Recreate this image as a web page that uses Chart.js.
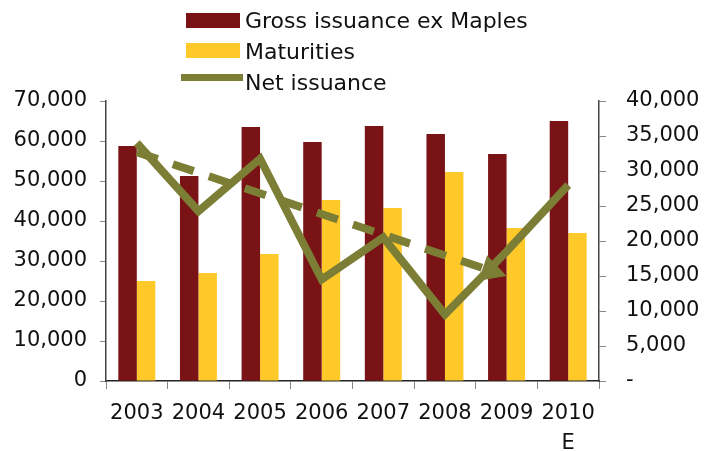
<!DOCTYPE html>
<html>
<head>
<meta charset="utf-8">
<script src="https://cdn.jsdelivr.net/npm/chart.js@4.4.1/dist/chart.umd.min.js"></script>
<style>
  html, body { margin: 0; padding: 0; background: #fff; }
  #wrap { position: relative; width: 704px; height: 451px; }
</style>
</head>
<body>
<div id="wrap"><canvas id="issuanceChart"></canvas></div>
<script>
// Issuance vs maturities, with net issuance on the secondary axis
const years = ['2003', '2004', '2005', '2006', '2007', '2008', '2009', ['2010', 'E']];
const grossIssuance = [58750, 51250, 63500, 59750, 63750, 61750, 56750, 65000];
const maturities = [25000, 27000, 31750, 45250, 43250, 52250, 38250, 37000];
const netIssuance = [34000, 24250, 31750, 14500, 20500, 9500, 18500, 28000];
// hand-drawn downward trend arrow, 2003 -> 2009
const netTrend = [32700, null, null, null, null, null, 15000, null];

const leftTicks = { min: 0, max: 70000, step: 10000 };
const rightTicks = { min: 0, max: 40000, step: 5000 };

const DARK_RED = '#7a1315';
const YELLOW = '#ffc92a';
const OLIVE = '#7b7e34';
const TREND_INDEX = 3;
const ARROW_LEN = 25;
const ARROW_HALF = 13.5;

Chart.defaults.font.family = '"DejaVu Sans", Verdana, sans-serif';
Chart.defaults.font.size = 21;
Chart.defaults.color = '#111';

function fmt(v) {
  return Number(v).toLocaleString('en-US');
}

function trendEnds(chart) {
  const pts = chart.getDatasetMeta(TREND_INDEX).data.filter((p, i) => netTrend[i] !== null);
  const a = pts[pts.length - 2];
  const b = pts[pts.length - 1];
  const ang = Math.atan2(b.y - a.y, b.x - a.x);
  return { tip: b, dx: Math.cos(ang), dy: Math.sin(ang) };
}

// cut the dashed line short so it ends inside the arrowhead base
const arrowHead = {
  id: 'arrowHead',
  beforeDatasetDraw(chart, args) {
    if (args.index !== TREND_INDEX) return;
    const { tip, dx, dy } = trendEnds(chart);
    const bx = tip.x - dx * (ARROW_LEN - 2);
    const by = tip.y - dy * (ARROW_LEN - 2);
    const ctx = chart.ctx;
    ctx.save();
    ctx.beginPath();
    ctx.moveTo(bx - dy * 1000, by + dx * 1000);
    ctx.lineTo(bx + dy * 1000, by - dx * 1000);
    ctx.lineTo(bx + dy * 1000 - dx * 2000, by - dx * 1000 - dy * 2000);
    ctx.lineTo(bx - dy * 1000 - dx * 2000, by + dx * 1000 - dy * 2000);
    ctx.closePath();
    ctx.clip();
  },
  afterDatasetDraw(chart, args) {
    if (args.index !== TREND_INDEX) return;
    const { tip, dx, dy } = trendEnds(chart);
    const ctx = chart.ctx;
    ctx.restore();
    const bx = tip.x - dx * ARROW_LEN;
    const by = tip.y - dy * ARROW_LEN;
    ctx.save();
    ctx.fillStyle = OLIVE;
    ctx.beginPath();
    ctx.moveTo(tip.x, tip.y);
    ctx.lineTo(bx - dy * ARROW_HALF, by + dx * ARROW_HALF);
    ctx.lineTo(bx + dy * ARROW_HALF, by - dx * ARROW_HALF);
    ctx.closePath();
    ctx.fill();
    ctx.restore();
  }
};

// stacked legend in the top band
const stackedLegend = {
  id: 'stackedLegend',
  afterDraw(chart) {
    const ctx = chart.ctx;
    const ds = chart.data.datasets;
    ctx.save();
    ctx.font = '22px "DejaVu Sans", Verdana, sans-serif';
    ctx.textBaseline = 'alphabetic';
    ctx.textAlign = 'left';

    ctx.fillStyle = ds[0].backgroundColor;
    ctx.fillRect(186, 13, 54, 15);
    ctx.fillStyle = ds[1].backgroundColor;
    ctx.fillRect(186, 43, 54, 15);
    ctx.strokeStyle = ds[2].borderColor;
    ctx.lineWidth = 7;
    ctx.beginPath();
    ctx.moveTo(181, 77.5);
    ctx.lineTo(243, 77.5);
    ctx.stroke();

    ctx.fillStyle = '#111';
    ctx.fillText(ds[0].label, 245, 28);
    ctx.fillText(ds[1].label, 245, 59);
    ctx.fillText(ds[2].label, 245, 90);
    ctx.restore();
  }
};

new Chart(document.getElementById('issuanceChart'), {
  data: {
    labels: years,
    datasets: [
      {
        type: 'bar',
        label: 'Gross issuance ex Maples',
        data: grossIssuance,
        backgroundColor: DARK_RED,
        yAxisID: 'y',
        order: 2,
      },
      {
        type: 'bar',
        label: 'Maturities',
        data: maturities,
        backgroundColor: YELLOW,
        yAxisID: 'y',
        order: 3,
      },
      {
        type: 'line',
        label: 'Net issuance',
        data: netIssuance,
        borderColor: OLIVE,
        borderWidth: 8,
        borderJoinStyle: 'miter',
        pointRadius: 0,
        tension: 0,
        yAxisID: 'y1',
        order: 0,
      },
      {
        type: 'line',
        label: 'trend',
        data: netTrend,
        spanGaps: true,
        borderColor: OLIVE,
        borderWidth: 8,
        borderDash: [22, 16],
        borderCapStyle: 'butt',
        pointRadius: 0,
        tension: 0,
        yAxisID: 'y1',
        order: 1,
      },
    ],
  },
  options: {
    responsive: true,
    maintainAspectRatio: false,
    animation: false,
    categoryPercentage: 0.6,
    barPercentage: 1.0,
    layout: { padding: { top: 101, left: 0, right: 0, bottom: 0 } },
    plugins: {
      legend: { display: false },
      tooltip: { enabled: false },
    },
    scales: {
      x: {
        afterFit: (scale) => { scale.height = 70; },
        grid: { drawOnChartArea: false, tickLength: 8, color: '#888', offset: true },
        border: { color: '#222', width: 1.5 },
        ticks: { padding: 10, maxRotation: 0, autoSkip: false, font: { size: 21, lineHeight: 1.4 } },
      },
      y: {
        position: 'left',
        min: leftTicks.min,
        max: leftTicks.max,
        afterFit: (scale) => { scale.width = 106; },
        grid: { drawOnChartArea: false, tickLength: 6, color: '#888' },
        border: { color: '#444', width: 1.5 },
        ticks: { stepSize: leftTicks.step, padding: 13, callback: (v) => fmt(v) },
      },
      y1: {
        position: 'right',
        min: rightTicks.min,
        max: rightTicks.max,
        afterFit: (scale) => { scale.width = 105; },
        grid: { drawOnChartArea: false, tickLength: 7, color: '#888' },
        border: { color: '#444', width: 1.5 },
        ticks: { stepSize: rightTicks.step, padding: 20, callback: (v) => (v === 0 ? '-' : fmt(v)) },
      },
    },
  },
  plugins: [arrowHead, stackedLegend],
});
</script>
</body>
</html>
